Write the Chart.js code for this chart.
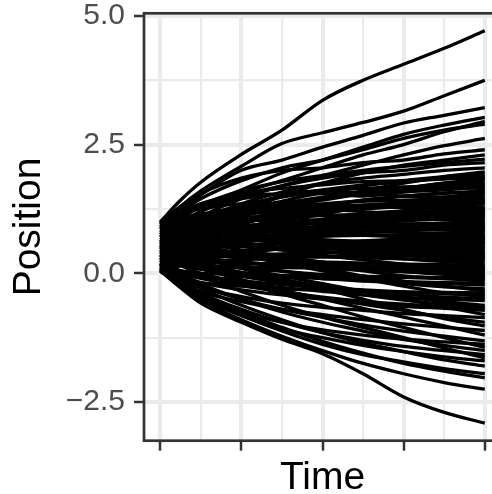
<!DOCTYPE html>
<html>
<head>
<meta charset="utf-8">
<script src="https://cdn.jsdelivr.net/npm/chart.js@4.4.1/dist/chart.umd.min.js"></script>
<style>
  html, body { margin: 0; padding: 0; background: #fff; overflow: hidden; }
  #wrap { width: 492px; height: 494px; overflow: hidden; }
</style>
</head>
<body>
<div id="wrap"><canvas id="paths" width="501" height="494"></canvas></div>
<script>
// time grid shared by every path
const timePoints = [0, 0.0625, 0.125, 0.25, 0.375, 0.5, 0.625, 0.75, 0.875, 1];

// position of each path at the times above
const positionPaths = [
  [1.00, 1.42, 1.77, 2.31, 2.78, 3.36, 3.75, 4.06, 4.37, 4.71],
  [0.95, 1.30, 1.60, 2.08, 2.52, 2.73, 2.93, 3.15, 3.45, 3.75],
  [0.90, 1.22, 1.52, 2.00, 2.20, 2.45, 2.68, 2.92, 3.07, 3.22],
  [0.75, 1.05, 1.30, 1.62, 1.95, 2.20, 2.45, 2.70, 2.88, 3.03],
  [0.60, 0.92, 1.20, 1.55, 1.80, 2.05, 2.30, 2.50, 2.75, 2.95],
  [0.85, 1.20, 1.45, 1.80, 2.05, 2.20, 2.40, 2.62, 2.78, 2.90],
  [0.50, 0.85, 1.10, 1.45, 1.70, 1.90, 2.10, 2.30, 2.48, 2.62],
  [0.98, 1.30, 1.55, 1.85, 2.00, 2.05, 2.15, 2.20, 2.32, 2.40],
  [0.30, 0.60, 0.85, 1.20, 1.50, 1.75, 1.95, 2.10, 2.20, 2.30],
  [0.70, 1.00, 1.20, 1.50, 1.70, 1.85, 1.95, 2.00, 2.10, 2.15],
  [0.15, 0.45, 0.70, 1.00, 1.25, 1.45, 1.60, 1.75, 1.88, 1.97],
  [0.88, 1.15, 1.35, 1.55, 1.65, 1.72, 1.78, 1.80, 1.85, 1.88],
  [0.42, 0.70, 0.90, 1.15, 1.35, 1.48, 1.58, 1.65, 1.72, 1.75],
  [0.65, 0.90, 1.05, 1.25, 1.40, 1.55, 1.50, 1.58, 1.62, 1.68],
  [0.25, 0.50, 0.70, 0.95, 1.15, 1.30, 1.42, 1.50, 1.56, 1.60],
  [0.92, 1.15, 1.30, 1.45, 1.55, 1.60, 1.55, 1.50, 1.48, 1.50],
  [0.55, 0.75, 0.90, 1.05, 1.15, 1.25, 1.30, 1.38, 1.40, 1.43],
  [0.10, 0.35, 0.55, 0.80, 0.95, 1.05, 1.15, 1.22, 1.30, 1.35],
  [0.78, 0.95, 1.05, 1.15, 1.20, 1.25, 1.30, 1.28, 1.27, 1.29],
  [0.35, 0.55, 0.70, 0.85, 0.95, 1.00, 1.08, 1.12, 1.15, 1.20],
  [0.97, 1.15, 1.25, 1.35, 1.30, 1.25, 1.20, 1.15, 1.12, 1.10],
  [0.20, 0.40, 0.50, 0.65, 0.75, 0.85, 0.90, 0.95, 0.98, 1.00],
  [0.60, 0.75, 0.85, 0.90, 0.95, 0.98, 0.92, 0.90, 0.93, 0.95],
  [0.45, 0.55, 0.65, 0.75, 0.82, 0.85, 0.88, 0.86, 0.85, 0.85],
  [0.82, 0.90, 0.95, 0.92, 0.88, 0.85, 0.82, 0.80, 0.78, 0.78],
  [0.08, 0.20, 0.30, 0.42, 0.50, 0.58, 0.62, 0.66, 0.68, 0.70],
  [0.72, 0.75, 0.72, 0.70, 0.68, 0.65, 0.62, 0.60, 0.61, 0.62],
  [0.38, 0.45, 0.50, 0.55, 0.58, 0.60, 0.58, 0.56, 0.55, 0.55],
  [0.95, 0.90, 0.85, 0.78, 0.70, 0.65, 0.60, 0.55, 0.50, 0.48],
  [0.18, 0.25, 0.30, 0.35, 0.38, 0.40, 0.42, 0.41, 0.40, 0.40],
  [0.68, 0.62, 0.58, 0.52, 0.48, 0.42, 0.38, 0.36, 0.34, 0.33],
  [0.50, 0.45, 0.42, 0.38, 0.35, 0.32, 0.30, 0.28, 0.26, 0.25],
  [0.85, 0.78, 0.70, 0.60, 0.50, 0.42, 0.35, 0.28, 0.23, 0.20],
  [0.28, 0.25, 0.22, 0.20, 0.18, 0.15, 0.14, 0.13, 0.12, 0.12],
  [0.62, 0.52, 0.45, 0.35, 0.28, 0.20, 0.15, 0.10, 0.07, 0.05],
  [0.40, 0.32, 0.27, 0.20, 0.15, 0.10, 0.06, 0.03, 0.01, 0.00],
  [0.12, 0.05, 0.00, -0.02, -0.04, -0.05, -0.06, -0.07, -0.08, -0.08],
  [0.75, 0.60, 0.50, 0.35, 0.25, 0.15, 0.05, -0.05, -0.10, -0.15],
  [0.32, 0.20, 0.12, 0.02, -0.05, -0.10, -0.15, -0.18, -0.20, -0.23],
  [0.55, 0.40, 0.30, 0.15, 0.05, -0.05, -0.12, -0.20, -0.26, -0.30],
  [0.05, -0.10, -0.18, -0.25, -0.30, -0.32, -0.35, -0.36, -0.37, -0.38],
  [0.90, 0.70, 0.55, 0.35, 0.20, 0.05, -0.10, -0.25, -0.38, -0.45],
  [0.22, 0.05, -0.05, -0.18, -0.28, -0.35, -0.42, -0.47, -0.50, -0.53],
  [0.47, 0.30, 0.18, 0.00, -0.12, -0.25, -0.35, -0.45, -0.55, -0.62],
  [0.15, -0.05, -0.18, -0.32, -0.42, -0.50, -0.58, -0.64, -0.68, -0.72],
  [0.66, 0.45, 0.30, 0.10, -0.05, -0.20, -0.35, -0.50, -0.65, -0.80],
  [0.08, -0.12, -0.28, -0.45, -0.58, -0.66, -0.72, -0.78, -0.82, -0.86],
  [0.36, 0.15, 0.00, -0.20, -0.35, -0.48, -0.60, -0.72, -0.85, -0.95],
  [0.80, 0.55, 0.35, 0.10, -0.10, -0.30, -0.50, -0.70, -0.88, -1.02],
  [0.10, -0.15, -0.35, -0.55, -0.70, -0.80, -0.90, -0.98, -1.05, -1.11],
  [0.52, 0.30, 0.12, -0.12, -0.32, -0.50, -0.68, -0.85, -1.02, -1.20],
  [0.20, -0.05, -0.25, -0.50, -0.70, -0.85, -1.00, -1.12, -1.22, -1.31],
  [0.04, -0.22, -0.45, -0.75, -0.95, -1.10, -1.20, -1.28, -1.33, -1.38],
  [0.60, 0.35, 0.15, -0.15, -0.40, -0.62, -0.85, -1.05, -1.25, -1.44],
  [0.28, 0.02, -0.20, -0.50, -0.75, -0.95, -1.12, -1.28, -1.40, -1.50],
  [0.12, -0.15, -0.38, -0.70, -0.95, -1.15, -1.30, -1.42, -1.50, -1.58],
  [0.44, 0.18, -0.05, -0.35, -0.62, -0.85, -1.05, -1.25, -1.45, -1.64],
  [0.06, -0.22, -0.48, -0.82, -1.08, -1.25, -1.40, -1.52, -1.62, -1.70],
  [0.25, -0.02, -0.28, -0.62, -0.90, -1.15, -1.35, -1.52, -1.68, -1.80],
  [0.09, -0.20, -0.45, -0.82, -1.12, -1.38, -1.58, -1.72, -1.85, -1.95],
  [0.18, -0.12, -0.38, -0.75, -1.05, -1.32, -1.55, -1.75, -1.90, -2.03],
  [0.07, -0.24, -0.52, -0.90, -1.22, -1.50, -1.75, -1.95, -2.12, -2.25],
  [0.05, -0.28, -0.58, -0.95, -1.28, -1.56, -1.95, -2.40, -2.70, -2.91],
  [0.58, 0.85, 1.05, 1.30, 1.50, 1.62, 1.72, 1.80, 1.88, 1.92],
  [0.33, 0.60, 0.80, 1.10, 1.30, 1.45, 1.55, 1.65, 1.75, 1.80],
  [0.96, 1.20, 1.35, 1.50, 1.55, 1.60, 1.65, 1.68, 1.70, 1.72],
  [0.14, 0.40, 0.58, 0.82, 1.00, 1.15, 1.28, 1.38, 1.48, 1.55],
  [0.70, 0.90, 1.05, 1.20, 1.28, 1.35, 1.40, 1.42, 1.44, 1.46],
  [0.48, 0.70, 0.85, 1.02, 1.12, 1.20, 1.25, 1.30, 1.34, 1.38],
  [0.86, 1.05, 1.15, 1.25, 1.30, 1.32, 1.30, 1.28, 1.26, 1.25],
  [0.26, 0.45, 0.60, 0.78, 0.90, 0.98, 1.05, 1.10, 1.13, 1.15],
  [0.56, 0.70, 0.80, 0.92, 0.98, 1.02, 1.05, 1.06, 1.05, 1.05],
  [0.16, 0.32, 0.45, 0.60, 0.70, 0.76, 0.82, 0.85, 0.88, 0.90],
  [0.99, 1.08, 1.10, 1.05, 1.00, 0.95, 0.90, 0.87, 0.84, 0.82],
  [0.40, 0.50, 0.58, 0.65, 0.70, 0.72, 0.74, 0.75, 0.74, 0.74],
  [0.03, 0.15, 0.25, 0.38, 0.48, 0.55, 0.60, 0.63, 0.65, 0.66],
  [0.76, 0.72, 0.70, 0.68, 0.65, 0.62, 0.60, 0.59, 0.58, 0.58],
  [0.30, 0.36, 0.40, 0.44, 0.47, 0.48, 0.50, 0.50, 0.50, 0.50],
  [0.63, 0.60, 0.57, 0.53, 0.50, 0.48, 0.46, 0.45, 0.44, 0.44],
  [0.10, 0.15, 0.20, 0.26, 0.30, 0.32, 0.34, 0.35, 0.36, 0.36],
  [0.93, 0.85, 0.78, 0.68, 0.58, 0.50, 0.42, 0.36, 0.31, 0.28],
  [0.45, 0.40, 0.36, 0.30, 0.26, 0.22, 0.20, 0.18, 0.17, 0.16],
  [0.20, 0.16, 0.14, 0.12, 0.11, 0.10, 0.09, 0.09, 0.08, 0.08],
  [0.70, 0.58, 0.48, 0.35, 0.25, 0.17, 0.10, 0.04, 0.00, -0.04],
  [0.24, 0.15, 0.08, 0.00, -0.06, -0.10, -0.13, -0.16, -0.18, -0.19],
  [0.84, 0.68, 0.55, 0.38, 0.22, 0.10, -0.05, -0.15, -0.25, -0.34],
  [0.35, 0.20, 0.08, -0.06, -0.18, -0.28, -0.35, -0.41, -0.46, -0.49],
  [0.58, 0.38, 0.22, 0.02, -0.15, -0.30, -0.42, -0.52, -0.60, -0.67],
  [0.46, 0.78, 1.02, 1.35, 1.58, 1.75, 1.85, 1.92, 2.00, 2.05],
  [0.80, 1.10, 1.32, 1.60, 1.78, 1.90, 2.00, 2.08, 2.15, 2.22],
  [0.52, 0.75, 0.92, 1.12, 1.28, 1.42, 1.55, 1.65, 1.75, 1.84],
  [0.12, 0.30, 0.45, 0.62, 0.78, 0.90, 1.00, 1.08, 1.14, 1.18],
  [0.88, 0.98, 1.05, 1.10, 1.08, 1.02, 0.98, 0.96, 0.97, 0.98],
  [0.36, 0.52, 0.62, 0.75, 0.85, 0.92, 0.98, 1.02, 1.06, 1.08],
  [0.68, 0.78, 0.82, 0.85, 0.84, 0.80, 0.76, 0.72, 0.70, 0.68],
  [0.22, 0.30, 0.36, 0.42, 0.48, 0.52, 0.55, 0.58, 0.60, 0.60],
  [0.74, 0.68, 0.62, 0.55, 0.48, 0.42, 0.38, 0.34, 0.31, 0.30],
  [0.42, 0.36, 0.30, 0.22, 0.16, 0.12, 0.08, 0.05, 0.03, 0.02],
  [0.90, 0.80, 0.70, 0.56, 0.45, 0.35, 0.26, 0.18, 0.12, 0.10],
  [0.16, 0.05, -0.04, -0.14, -0.22, -0.28, -0.32, -0.36, -0.40, -0.42],
  [0.62, 0.82, 0.98, 1.18, 1.32, 1.45, 1.55, 1.62, 1.66, 1.65],
  [0.27, 0.50, 0.66, 0.88, 1.05, 1.18, 1.28, 1.35, 1.40, 1.42],
  [0.50, 0.62, 0.72, 0.85, 0.95, 1.05, 1.12, 1.18, 1.22, 1.26],
  [0.78, 0.88, 0.95, 1.02, 1.08, 1.12, 1.15, 1.18, 1.20, 1.22],
  [0.32, 0.48, 0.60, 0.78, 0.92, 1.02, 1.10, 1.16, 1.20, 1.24],
  [0.94, 1.05, 1.12, 1.20, 1.25, 1.28, 1.33, 1.36, 1.38, 1.40],
  [0.06, 0.25, 0.40, 0.60, 0.75, 0.88, 0.98, 1.05, 1.10, 1.12],
  [0.64, 0.72, 0.78, 0.84, 0.88, 0.90, 0.92, 0.93, 0.92, 0.92],
  [0.44, 0.55, 0.62, 0.70, 0.76, 0.80, 0.82, 0.84, 0.86, 0.88],
  [0.83, 0.86, 0.88, 0.86, 0.82, 0.78, 0.74, 0.71, 0.69, 0.67],
  [0.19, 0.28, 0.35, 0.44, 0.52, 0.58, 0.63, 0.67, 0.70, 0.72],
  [0.56, 0.60, 0.62, 0.64, 0.64, 0.63, 0.62, 0.62, 0.63, 0.64],
  [0.71, 0.94, 1.10, 1.32, 1.48, 1.60, 1.70, 1.78, 1.83, 1.86],
  [0.38, 0.62, 0.78, 1.00, 1.18, 1.32, 1.42, 1.50, 1.55, 1.58],
  [0.60, 0.52, 0.46, 0.40, 0.36, 0.34, 0.33, 0.34, 0.36, 0.38],
  [0.29, 0.24, 0.18, 0.10, 0.04, -0.02, -0.06, -0.08, -0.10, -0.11],
  [0.81, 0.70, 0.60, 0.45, 0.33, 0.22, 0.12, 0.04, -0.02, -0.06],
  [0.13, 0.00, -0.10, -0.24, -0.36, -0.46, -0.54, -0.60, -0.64, -0.66]
];

// axis ticks
const xMajorTicks = [0, 0.25, 0.5, 0.75, 1];
const xMinorTicks = [0.125, 0.375, 0.625, 0.875];
const yMajorTicks = [-2.5, 0, 2.5, 5];
const yMinorTicks = [-1.25, 1.25, 3.75];
const yTickLabels = ['\u22122.5', '0.0', '2.5', '5.0'];

const isMajor = (list, v) => list.some(m => Math.abs(m - v) < 1e-9);

const datasets = positionPaths.map(function (path) {
    return {
        data: path.map((y, i) => ({ x: timePoints[i], y: y })),
        borderColor: '#000000',
        borderWidth: 3.3,
        pointRadius: 0,
        cubicInterpolationMode: 'monotone',
        fill: false
    };
});

const panelBorder = {
    id: 'panelBorder',
    afterDatasetsDraw(chart) {
        const { ctx, chartArea: a } = chart;
        ctx.save();
        ctx.strokeStyle = '#333333';
        ctx.lineWidth = 2.7;
        ctx.strokeRect(a.left, a.top, a.right - a.left, a.bottom - a.top);
        ctx.restore();
    }
};

const fontFamily = '"Liberation Sans", Arial, sans-serif';

new Chart(document.getElementById('paths').getContext('2d'), {
    type: 'line',
    data: { datasets: datasets },
    plugins: [panelBorder],
    options: {
        responsive: false,
        animation: false,
        devicePixelRatio: 1,
        layout: { padding: { left: 0, right: 0, top: 13.3, bottom: 0 } },
        plugins: { legend: { display: false }, tooltip: { enabled: false } },
        scales: {
            x: {
                type: 'linear',
                min: -0.05,
                max: 1.05,
                afterBuildTicks: axis => {
                    axis.ticks = xMajorTicks.concat(xMinorTicks).sort((a, b) => a - b).map(v => ({ value: v }));
                },
                afterFit: axis => {
                    axis.height = 53.3;
                    axis.paddingLeft = 0;
                    axis.paddingRight = 0;
                },
                ticks: { autoSkip: false, display: false },
                grid: {
                    color: '#EBEBEB',
                    lineWidth: c => isMajor(xMajorTicks, c.tick.value) ? 4 : 2.2,
                    drawTicks: true,
                    tickLength: 10,
                    tickWidth: 2.5,
                    tickColor: c => isMajor(xMajorTicks, c.tick.value) ? '#333333' : 'rgba(0,0,0,0)'
                },
                border: { display: false },
                title: {
                    display: true,
                    text: 'Time',
                    color: '#000000',
                    font: { family: fontFamily, size: 39, lineHeight: 0.8 },
                    padding: { top: 0, bottom: 0 }
                }
            },
            y: {
                type: 'linear',
                min: -3.25,
                max: 5.05,
                afterBuildTicks: axis => {
                    axis.ticks = yMajorTicks.concat(yMinorTicks).sort((a, b) => a - b).map(v => ({ value: v }));
                },
                afterFit: axis => {
                    axis.width = 144;
                    axis.paddingTop = 0;
                    axis.paddingBottom = 0;
                },
                ticks: {
                    autoSkip: false,
                    color: '#4D4D4D',
                    font: { family: fontFamily, size: 30 },
                    padding: 9,
                    callback: function (value) {
                        const i = yMajorTicks.findIndex(m => Math.abs(m - value) < 1e-9);
                        return i >= 0 ? yTickLabels[i] : '';
                    }
                },
                grid: {
                    color: '#EBEBEB',
                    lineWidth: c => isMajor(yMajorTicks, c.tick.value) ? 4 : 2.2,
                    drawTicks: true,
                    tickLength: 10,
                    tickWidth: 2.5,
                    tickColor: c => isMajor(yMajorTicks, c.tick.value) ? '#333333' : 'rgba(0,0,0,0)'
                },
                border: { display: false },
                title: {
                    display: true,
                    text: 'Position',
                    color: '#000000',
                    font: { family: fontFamily, size: 39, lineHeight: 1.2 },
                    padding: { top: 6, bottom: 0 }
                }
            }
        }
    }
});
</script>
</body>
</html>
